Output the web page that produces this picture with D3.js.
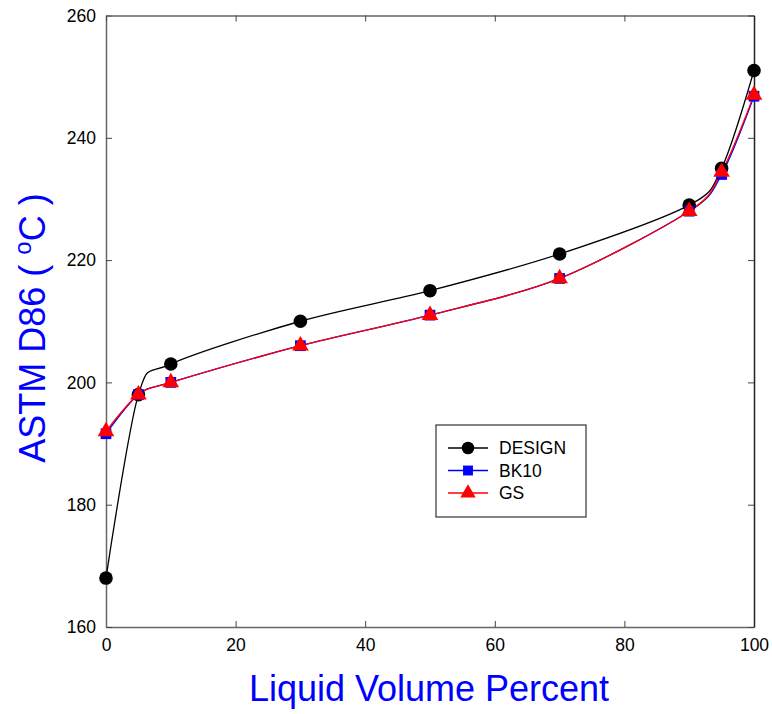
<!DOCTYPE html>
<html>
<head>
<meta charset="utf-8">
<script src="https://cdn.jsdelivr.net/npm/d3@7"></script>
<style>
  body { margin: 0; background: #fff; }
  text { font-family: "Liberation Sans", Arial, sans-serif; }
</style>
</head>
<body>
<div id="chart"></div>
<script>
// values
const volume = [0, 5, 10, 30, 50, 70, 90, 95, 100];
const design = [168, 198, 203, 210, 215, 221, 229, 235, 251];
const bk10 = [191.6, 198, 200, 206, 211, 217, 228, 234, 246.8];
const gs = [192, 198, 200, 206, 211, 217, 228, 234.4, 247];
const xTicks = [0, 20, 40, 60, 80, 100];
const yTicks = [160, 180, 200, 220, 240, 260];

const W = 772, H = 714;
const pLeft = 106, pRight = 754, pTop = 15.5, pBottom = 627;

const svg = d3.select("#chart").append("svg")
    .attr("width", W)
    .attr("height", H);

const x = d3.scaleLinear().domain([0, 100]).range([pLeft, pRight]);
const y = d3.scaleLinear().domain([160, 260]).range([pBottom, pTop]);

// axes, ticks pointing inwards
svg.append("g").attr("transform", `translate(0,${pBottom})`)
    .call(d3.axisBottom(x).tickValues(xTicks).tickSizeInner(-6).tickSizeOuter(0).tickPadding(12))
    .call(g => g.select(".domain").attr("stroke", "#666").attr("stroke-width", 1.5))
    .call(g => g.selectAll(".tick line").attr("stroke", "#444"))
    .call(g => g.selectAll("text").attr("font-size", 17.5).attr("fill", "#000"));

svg.append("g").attr("transform", `translate(${pLeft},0)`)
    .call(d3.axisLeft(y).tickValues(yTicks).tickSizeInner(-6).tickSizeOuter(0).tickPadding(10))
    .call(g => g.select(".domain").attr("stroke", "#666").attr("stroke-width", 1.5))
    .call(g => g.selectAll(".tick line").attr("stroke", "#444"))
    .call(g => g.selectAll("text").attr("font-size", 17.5).attr("fill", "#000"));

svg.append("g").attr("transform", `translate(0,${pTop})`)
    .call(d3.axisTop(x).tickValues(xTicks).tickSizeInner(-6).tickSizeOuter(0).tickFormat(""))
    .call(g => g.select(".domain").attr("stroke", "#666").attr("stroke-width", 1.5))
    .call(g => g.selectAll(".tick line").attr("stroke", "#444"));

svg.append("g").attr("transform", `translate(${pRight},0)`)
    .call(d3.axisRight(y).tickValues(yTicks).tickSizeInner(-6).tickSizeOuter(0).tickFormat(""))
    .call(g => g.select(".domain").attr("stroke", "#222").attr("stroke-width", 1.5))
    .call(g => g.selectAll(".tick line").attr("stroke", "#444"));

// series
const series = [
    { name: "DESIGN", values: design, color: "#000", sym: d3.symbolCircle, size: 145 },
    { name: "BK10", values: bk10, color: "#0000ff", sym: d3.symbolSquare, size: 115 },
    { name: "GS", values: gs, color: "#ff0000", sym: d3.symbolTriangle, size: 120 }
];

const line = d3.line()
    .x((d, i) => x(volume[i]))
    .y(d => y(d))
    .curve(d3.curveCardinal.tension(0.1));

series.forEach(s => {
    svg.append("path")
        .attr("d", line(s.values))
        .attr("fill", "none")
        .attr("stroke", s.color)
        .attr("stroke-width", 1.3);
});

series.forEach(s => {
    svg.append("g").selectAll("path")
        .data(s.values)
        .enter()
        .append("path")
        .attr("transform", (d, i) => `translate(${x(volume[i])},${y(d)})`)
        .attr("d", d3.symbol().type(s.sym).size(s.size))
        .attr("fill", s.color);
});

// legend
const lg = svg.append("g");
lg.append("rect")
    .attr("x", 436).attr("y", 425)
    .attr("width", 150).attr("height", 92)
    .attr("fill", "#fff")
    .attr("stroke", "#333")
    .attr("stroke-width", 1.2);

series.forEach((s, i) => {
    const ly = 448 + i * 22.5;
    lg.append("line")
        .attr("x1", 448).attr("x2", 488)
        .attr("y1", ly).attr("y2", ly)
        .attr("stroke", s.color)
        .attr("stroke-width", 1.3);
    lg.append("path")
        .attr("transform", `translate(468,${ly})`)
        .attr("d", d3.symbol().type(s.sym).size(s.size * 0.85))
        .attr("fill", s.color);
    lg.append("text")
        .attr("x", 499).attr("y", ly + 6)
        .attr("font-size", 17.5)
        .text(s.name);
});

// axis titles
svg.append("text")
    .attr("x", 429)
    .attr("y", 701)
    .attr("text-anchor", "middle")
    .attr("font-size", 36)
    .attr("fill", "#0000ff")
    .text("Liquid Volume Percent");

const yt = svg.append("text")
    .attr("transform", `translate(45,328) rotate(-90)`)
    .attr("text-anchor", "middle")
    .attr("font-size", 36)
    .attr("fill", "#0000ff");
yt.append("tspan").text("ASTM D86 ( ");
yt.append("tspan").attr("font-size", 24).attr("dy", -14).text("o");
yt.append("tspan").attr("dy", 14).text("C )");
</script>
</body>
</html>
